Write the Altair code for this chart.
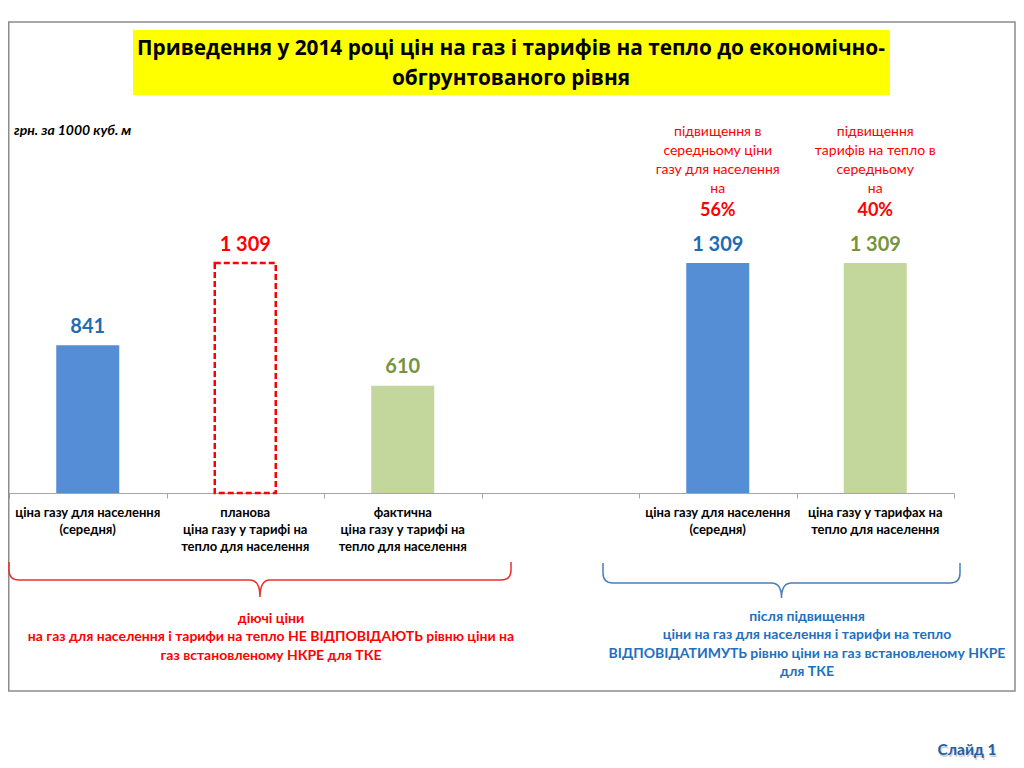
import altair as alt
import pandas as pd

# ---------------- data ----------------
categories = ["c1", "c2", "c3", "c4", "c5", "c6"]
category_labels = [
    "ціна газу для населення\n(середня)",
    "планова\nціна газу у тарифі на\nтепло для населення",
    "фактична\nціна газу у тарифі на\nтепло для населення",
    "",
    "ціна газу для населення\n(середня)",
    "ціна  газу у  тарифах на\nтепло для населення",
]
values = [841, 1309, 610, None, 1309, 1309]
series = ["газ", "план", "тепло", "", "газ", "тепло"]

title_lines = [
    "Приведення у 2014 році цін на газ і тарифів на тепло до економічно-",
    "обгрунтованого рівня",
]
unit_label = "грн. за 1000 куб. м"

annot_categories = ["c5", "c6"]
annot_texts = [
    "підвищення в\nсередньому  ціни\nгазу для населення\nна",
    "підвищення\nтарифів на  тепло в\nсередньому\nна",
]
annot_pct = ["56%", "40%"]

red_note = [
    "діючі ціни",
    "на газ для населення  і тарифи  на тепло НЕ ВІДПОВІДАЮТЬ рівню  ціни на",
    "газ встановленому НКРЕ для ТКЕ",
]
blue_note = [
    "після підвищення",
    "ціни на газ для населення  і тарифи  на тепло",
    "ВІДПОВІДАТИМУТЬ рівню  ціни на газ встановленому НКРЕ",
    "для ТКЕ",
]
slide_label = "Слайд 1"

# ---------------- styles ----------------
FONT = "Lato, 'Open Sans', sans-serif"
TITLE_FONT = "'Open Sans', Lato, sans-serif"
BLUE_BAR = "#558ED5"
GREEN_BAR = "#C3D69B"
BLUE_TXT = "#1F6BB5"
GREEN_TXT = "#77933C"
RED = "#FF0000"
NOTE_BLUE = "#1F70C0"

df = pd.DataFrame({
    "cat": categories,
    "label": category_labels,
    "value": values,
    "series": series,
})
df["value_text"] = [("" if v is None or pd.isna(v) else f"{int(v):,}".replace(",", " ")) for v in df["value"]]

X = alt.X(
    "cat:N",
    sort=categories,
    scale=alt.Scale(domain=categories, paddingInner=0, paddingOuter=0),
    axis=alt.Axis(labels=False, title=None, tickBand="extent", domainColor="#A6A6A6",
                  tickColor="#A6A6A6", tickSize=5, domainWidth=1),
)
Y = alt.Y("value:Q", scale=alt.Scale(domain=[0, 1309], nice=False, zero=True), axis=None)

base = alt.Chart(df).encode(x=X)

solid = base.transform_filter(
    alt.FieldOneOfPredicate(field="series", oneOf=["газ", "тепло"])
).mark_bar(size=63).encode(
    y=Y,
    color=alt.Color("series:N", scale=alt.Scale(domain=["газ", "тепло"], range=[BLUE_BAR, GREEN_BAR]), legend=None),
)

dashed = base.transform_filter(alt.datum.series == "план").mark_bar(
    size=61, fill="white", fillOpacity=0, stroke=RED, strokeWidth=2.5, strokeDash=[6, 3]
).encode(y=Y)

value_labels = base.transform_filter(alt.datum.value_text != "").mark_text(
    font=FONT, fontSize=20, fontWeight="bold", baseline="alphabetic", dy=-12.5
).encode(
    y=Y,
    text="value_text:N",
    fill=alt.Fill("series:N", scale=alt.Scale(domain=["газ", "план", "тепло"],
                                              range=[BLUE_TXT, RED, GREEN_TXT]), legend=None),
)

cat_labels = base.mark_text(
    font=FONT, fontSize=13, fontWeight="bold", baseline="alphabetic", lineBreak="\n",
    lineHeight=17, color="#000000"
).encode(y=alt.value(253.5), text="label:N")

annot_df = pd.DataFrame({"cat": annot_categories, "text": annot_texts, "pct": annot_pct})
annot = alt.Chart(annot_df).mark_text(
    font=FONT, fontSize=14, baseline="alphabetic", lineBreak="\n", lineHeight=19, color=RED
).encode(x=alt.X("cat:N", sort=categories), y=alt.value(-127), text="text:N")
annot_pct_m = alt.Chart(annot_df).mark_text(
    font=FONT, fontSize=18, fontWeight="bold", baseline="alphabetic", color=RED
).encode(x=alt.X("cat:N", sort=categories), y=alt.value(-47), text="pct:N")

one = pd.DataFrame({"k": [0]})

frame = alt.Chart(one).mark_rect(fill="white", fillOpacity=0, stroke="#8C8C8C", strokeWidth=1.5).encode(
    x=alt.value(-0.25), x2=alt.value(1006), y=alt.value(-241), y2=alt.value(428)
)
title_box = alt.Chart(one).mark_rect(fill="#FFFF00").encode(
    x=alt.value(124), x2=alt.value(881), y=alt.value(-233), y2=alt.value(-168)
)
title = alt.Chart(pd.DataFrame({"t": ["\n".join(title_lines)]})).mark_text(
    font=TITLE_FONT, fontSize=20.8, fontWeight="bold", baseline="alphabetic", lineBreak="\n",
    lineHeight=30, color="#000000"
).encode(x=alt.value(502), y=alt.value(-208), text="t:N")

unit = alt.Chart(pd.DataFrame({"t": [unit_label]})).mark_text(
    font=FONT, fontSize=14, fontWeight="bold", fontStyle="italic", align="left",
    baseline="alphabetic", color="#000000"
).encode(x=alt.value(5), y=alt.value(-128), text="t:N")


def brace_path(half_w, up, down, r=10.0):
    u = lambda v: round(v / half_w, 5)
    return (
        f"M -1 {-u(up)} L -1 {-u(r)} Q -1 0 {-1 + u(r)} 0 "
        f"L {-u(r)} 0 Q 0 0 0 {u(down)} "
        f"M 0 {u(down)} Q 0 0 {u(r)} 0 "
        f"L {1 - u(r)} 0 Q 1 0 1 {-u(r)} L 1 {-u(up)}"
    )


red_half = 251.0
blue_half = 178.5
red_brace = alt.Chart(one).mark_point(
    shape=brace_path(red_half, 18, 17), size=(2 * red_half) ** 2, filled=False,
    stroke="#E8312F", strokeWidth=1.5, opacity=1
).encode(x=alt.value(251), y=alt.value(317))
blue_brace = alt.Chart(one).mark_point(
    shape=brace_path(blue_half, 20, 15), size=(2 * blue_half) ** 2, filled=False,
    stroke="#4A7EBB", strokeWidth=1.5, opacity=1
).encode(x=alt.value(772.5), y=alt.value(320))

red_text = alt.Chart(pd.DataFrame({"t": ["\n".join(red_note)]})).mark_text(
    font=FONT, fontSize=14, fontWeight="bold", baseline="alphabetic", lineBreak="\n",
    lineHeight=18.5, color=RED
).encode(x=alt.value(262), y=alt.value(359.5), text="t:N")
blue_text = alt.Chart(pd.DataFrame({"t": ["\n".join(blue_note)]})).mark_text(
    font=FONT, fontSize=14, fontWeight="bold", baseline="alphabetic", lineBreak="\n",
    lineHeight=18.5, color=NOTE_BLUE
).encode(x=alt.value(798), y=alt.value(357.5), text="t:N")

slide_shadow = alt.Chart(pd.DataFrame({"t": [slide_label]})).mark_text(
    font=FONT, fontSize=15.5, fontWeight="bold", baseline="alphabetic", color="#9AA7B8", opacity=0.5
).encode(x=alt.value(959), y=alt.value(494), text="t:N")
slide = alt.Chart(pd.DataFrame({"t": [slide_label]})).mark_text(
    font=FONT, fontSize=15.5, fontWeight="bold", baseline="alphabetic", color="#1F5FA8"
).encode(x=alt.value(958), y=alt.value(492), text="t:N")

chart = alt.layer(
    frame, title_box, title, unit,
    solid, dashed, value_labels, cat_labels,
    annot, annot_pct_m,
    red_brace, blue_brace, red_text, blue_text,
    slide_shadow, slide,
).resolve_scale(color="independent", fill="independent").properties(
    width=945, height=230,
    autosize=alt.AutoSizeParams(type="none"),
    padding={"left": 1, "top": 255, "right": 62, "bottom": 267},
    background="white",
).configure_view(strokeWidth=0)

chart.save("out.html", embed_options={"renderer": "svg", "actions": False})
